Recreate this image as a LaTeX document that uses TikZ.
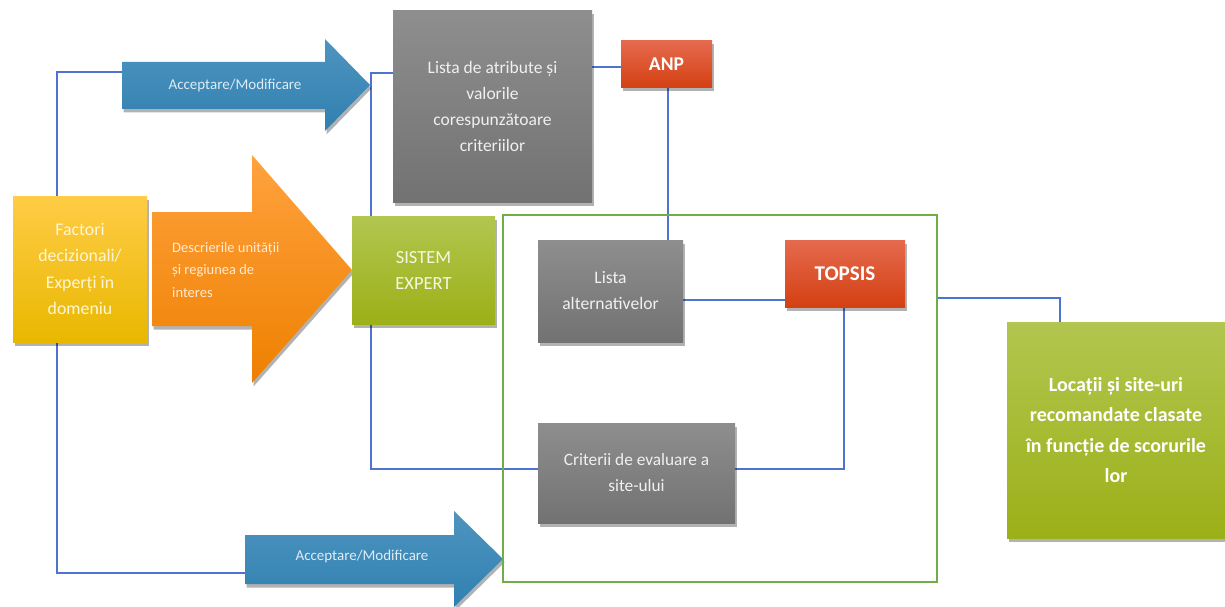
\documentclass[tikz,border=0pt]{standalone}
\usepackage{fontspec}
\setmainfont{Carlito}
\usetikzlibrary{shadows}

\definecolor{lineBlue}{RGB}{78,116,206}
\definecolor{frameGreen}{RGB}{112,173,71}
\definecolor{grayTop}{RGB}{142,142,142}
\definecolor{grayBot}{RGB}{114,114,114}
\definecolor{grayText}{RGB}{240,240,240}
\definecolor{redTop}{RGB}{229,106,78}
\definecolor{redMid}{RGB}{230,76,30}
\definecolor{redBot}{RGB}{212,64,18}
\definecolor{yelTop}{RGB}{255,204,70}
\definecolor{yelMid}{RGB}{255,200,0}
\definecolor{yelBot}{RGB}{232,184,0}
\definecolor{yelText}{RGB}{255,246,214}
\definecolor{grnTop}{RGB}{178,198,80}
\definecolor{grnMid}{RGB}{168,190,40}
\definecolor{grnBot}{RGB}{156,176,24}
\definecolor{grnText}{RGB}{244,248,226}
\definecolor{bluTop}{RGB}{78,148,192}
\definecolor{bluBot}{RGB}{48,128,176}
\definecolor{bluText}{RGB}{222,236,246}
\definecolor{orgTop}{RGB}{255,162,62}
\definecolor{orgMid}{RGB}{255,145,10}
\definecolor{orgBot}{RGB}{238,128,0}
\definecolor{orgText}{RGB}{255,234,210}

\pgfdeclarelayer{paper}
\pgfdeclarelayer{wires}
\pgfsetlayers{paper,wires,main}

\tikzset{
  shade box/.style={rectangle, inner sep=0pt, align=center,
    drop shadow={shadow xshift=1.5pt, shadow yshift=-3.5pt, opacity=0.3, fill=black}},
  graybox/.style={shade box, top color=grayTop, bottom color=grayBot, text=grayText,
    font=\fontsize{17.5}{26}\selectfont},
  redbox/.style={shade box, top color=redTop, middle color=redMid, bottom color=redBot,
    text=white, font=\bfseries\fontsize{21}{26}\selectfont},
  greenbox/.style={shade box, top color=grnTop, middle color=grnMid, bottom color=grnBot,
    text=grnText},
  bigarrow/.style={drop shadow={shadow xshift=1.5pt, shadow yshift=-3.5pt, opacity=0.3, fill=black}},
  bluearrow/.style={bigarrow, top color=bluTop, bottom color=bluBot},
  arrowtext/.style={inner sep=0pt, text=bluText, font=\fontsize{15}{20}\selectfont},
  link/.style={draw=lineBlue, line width=1.1pt},
}

\begin{document}
\begin{tikzpicture}[x=1pt,y=-1pt]
\begin{pgfonlayer}{paper}
  \fill[white] (0,0) rectangle (1225,607);
\end{pgfonlayer}
\useasboundingbox (0,0) rectangle (1225,607);

% broad arrows
\path[bluearrow] (122,62) -- (325,62) -- (325,39) -- (370,85) -- (325,131)
  -- (325,109) -- (122,109) -- cycle;
\path[bigarrow, top color=orgTop, middle color=orgMid, bottom color=orgBot]
  (152,212) -- (252,212) -- (252,155) -- (352,270) -- (252,383)
  -- (252,326) -- (152,326) -- cycle;
\path[bluearrow] (245,535) -- (454,535) -- (454,511) -- (503,559) -- (454,607)
  -- (454,584) -- (245,584) -- cycle;

\node[arrowtext] (accTop) at (235,86) {Acceptare/Modificare};
\node[arrowtext] (accBot) at (362,556) {Acceptare/Modificare};
\node[inner sep=0pt, anchor=west, align=left, text=orgText,
  font=\fontsize{14.5}{22.5}\selectfont] (descr) at (172,270)
  {Descrierile unității\\și regiunea de\\interes};

% attachment points on the arrow bodies
\coordinate (tabody) at (122,72);
\coordinate (babody) at (245,573);

% boxes
\node[draw=frameGreen, line width=2.2pt, minimum width=434pt, minimum height=367pt,
  inner sep=0pt] (frame) at (720,398.5) {};

\node[shade box, top color=yelTop, middle color=yelMid, bottom color=yelBot,
  text=yelText, minimum width=134pt, minimum height=146pt,
  font=\fontsize{17.8}{26.5}\selectfont] (fac) at (80,269)
  {Factori\\decizionali/\\Experți în\\domeniu};

\node[graybox, minimum width=199pt, minimum height=191pt] (lista) at (492.5,106.5)
  {Lista de atribute și\\valorile\\corespunzătoare\\criteriilor};

\node[redbox, minimum width=91pt, minimum height=47pt, font=\bfseries\fontsize{19.5}{26}\selectfont]
  (anp) at (666.5,64.5) {ANP};

\node[greenbox, minimum width=143pt, minimum height=108pt,
  font=\fontsize{18.5}{26}\selectfont] (sis) at (423.5,270) {SISTEM\\EXPERT};

\node[graybox, minimum width=145pt, minimum height=102pt,
  font=\fontsize{17.6}{26}\selectfont] (lalt) at (610.5,291) {Lista\\alternativelor};

\node[redbox, minimum width=120pt, minimum height=67pt] (topsis) at (845,273.5) {TOPSIS};

\node[graybox, minimum width=197pt, minimum height=100pt,
  font=\fontsize{17.3}{26}\selectfont] (crit) at (636.5,473)
  {Criterii de evaluare a\\site-ului};

\node[greenbox, minimum width=218pt, minimum height=216pt, text=white,
  font=\bfseries\fontsize{20}{30.5}\selectfont] (loc) at (1116,430)
  {Locații și site-uri\\recomandate clasate\\în funcție de scorurile\\lor};

% connector guides
\coordinate (lx) at (57,0);
\coordinate (xs) at (371,0);
\coordinate (ly) at (0,73);
\coordinate (ay) at (0,67);
\coordinate (cy) at (0,469);
\coordinate (ty) at (0,300);
\coordinate (tx) at (844,0);
\coordinate (fy) at (0,298);
\coordinate (lcx) at (1060,0);
\coordinate (ax) at (668,0);

\begin{pgfonlayer}{wires}
  \draw[link] (fac.north -| lx) |- (tabody);
  \draw[link] (fac.south -| lx) |- (babody);
  \draw[link] (lista.west |- ly) -- (xs |- ly) -- (xs |- cy) -- (crit.west |- cy);
  \draw[link] (lista.east |- ay) -- (anp.west |- ay);
  \draw[link] (anp.south -| ax) -- (lalt.north -| ax);
  \draw[link] (lalt.east |- ty) -- (topsis.west |- ty);
  \draw[link] (topsis.south -| tx) |- (crit.east |- cy);
  \draw[link] (frame.east |- fy) -| (loc.north -| lcx);
\end{pgfonlayer}
\end{tikzpicture}
\end{document}
